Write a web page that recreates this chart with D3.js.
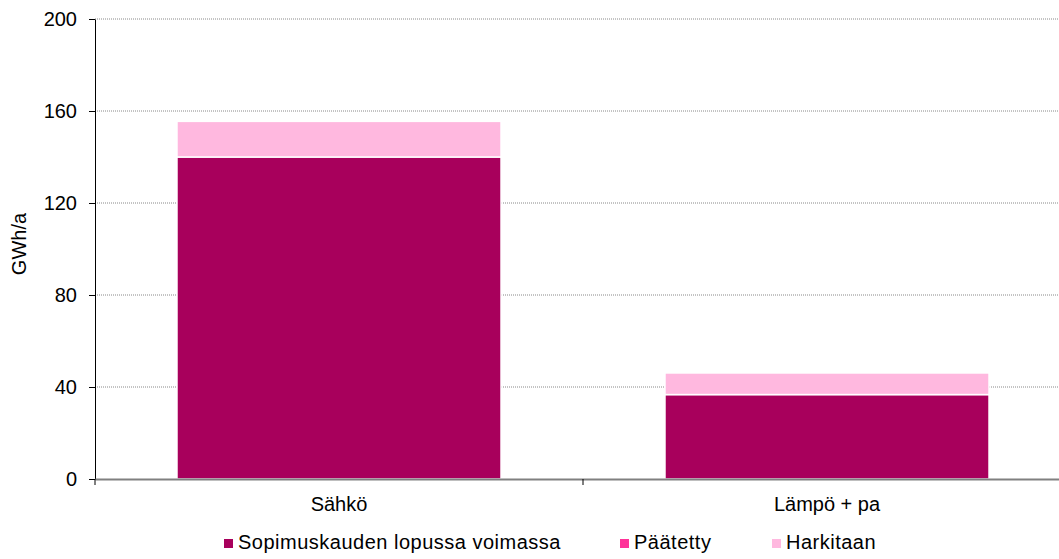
<!DOCTYPE html>
<html>
<head>
<meta charset="utf-8">
<script src="https://cdn.jsdelivr.net/npm/d3@7"></script>
<style>
  body { margin: 0; background: #fff; }
  text { font-family: "Liberation Sans", Arial, sans-serif; }
</style>
</head>
<body>
<div id="chart"></div>
<script>
// data
const categories = ["Sähkö", "Lämpö + pa"]
const seriesNames = ["Sopimuskauden lopussa voimassa", "Päätetty", "Harkitaan"]
const voimassa = [140, 36.7]
const paatetty = [0, 0]
const harkitaan = [15.5, 9.4]
const yTicks = [0, 40, 80, 120, 160, 200]
const colors = ["#A8005C", "#FF3399", "#FFB8DF"]

const width = 1059, height = 559
const margin = {top: 19, right: -12, bottom: 80, left: 95}

const svg = d3.select("#chart")
    .append("svg")
        .attr("width", width)
        .attr("height", height)

const x = d3.scaleBand()
    .domain(categories)
    .range([margin.left, width - margin.right])
    .paddingInner(0.336)
    .paddingOuter(0.168)

const xCat = d3.scaleBand()
    .domain(categories)
    .range([margin.left, width - margin.right])

const y = d3.scaleLinear()
    .domain([0, 200])
    .range([height - margin.bottom, margin.top])

// gridlines
svg.append("g")
    .selectAll("line")
    .data(yTicks.filter(d => d > 0))
    .join("line")
        .attr("x1", margin.left)
        .attr("x2", width)
        .attr("y1", d => y(d))
        .attr("y2", d => y(d))
        .style("stroke", "#888")
        .style("stroke-width", 1)
        .style("stroke-dasharray", "1,1")

// stacked data
const rows = categories.map((c, i) => ({cat: c, s0: voimassa[i], s1: paatetty[i], s2: harkitaan[i]}))
const stack = d3.stack().keys(["s0", "s1", "s2"])(rows)

svg.append("g")
    .selectAll("g")
    .data(stack)
    .join("g")
        .attr("fill", (d, i) => colors[i])
    .selectAll("rect")
    .data(d => d.filter(p => p[1] - p[0] > 0))
    .join("rect")
        .attr("x", d => x(d.data.cat))
        .attr("y", d => y(d[1]))
        .attr("width", x.bandwidth())
        .attr("height", d => y(d[0]) - y(d[1]))
        .style("stroke", "#fff")
        .style("stroke-width", 1.5)

// y axis
const yAxis = svg.append("g")
    .attr("transform", `translate(${margin.left},0)`)
    .call(d3.axisLeft(y).tickValues(yTicks).tickSize(6).tickSizeOuter(0))
yAxis.select(".domain").attr("stroke", "#000")
yAxis.selectAll(".tick line").attr("stroke", "#000")
yAxis.selectAll("text")
    .attr("fill", "#000")
    .style("font-size", "20px")
    .attr("x", -18)

// x axis
const xAxis = svg.append("g")
    .attr("transform", `translate(0,${y(0)})`)
    .call(d3.axisBottom(xCat).tickSize(0).tickSizeOuter(0))
xAxis.select(".domain").attr("stroke", "#808080").attr("stroke-width", 2)
xAxis.selectAll("text")
    .attr("fill", "#000")
    .style("font-size", "20px")
    .attr("y", 18)
// ticks at category edges
svg.append("g")
    .selectAll("line")
    .data(categories)
    .join("line")
        .attr("x1", d => xCat(d))
        .attr("x2", d => xCat(d))
        .attr("y1", y(0))
        .attr("y2", y(0) + 6)
        .style("stroke", "#000")

// y label
svg.append("text")
    .attr("transform", `translate(26,${(y(0) + y(200)) / 2 - 5}) rotate(-90)`)
    .attr("text-anchor", "middle")
    .style("font-size", "20px")
    .text("GWh/a")

// legend
const legendX = [224, 620, 772]
const legend = svg.append("g")
    .selectAll("g")
    .data(seriesNames)
    .join("g")
        .attr("transform", (d, i) => `translate(${legendX[i]},549)`)
legend.append("rect")
    .attr("x", 0)
    .attr("y", -10)
    .attr("width", 9)
    .attr("height", 9)
    .attr("fill", (d, i) => colors[i])
legend.append("text")
    .attr("x", 14)
    .attr("y", 0)
    .style("font-size", "20px")
    .style("letter-spacing", "0.5px")
    .text(d => d)
</script>
</body>
</html>
